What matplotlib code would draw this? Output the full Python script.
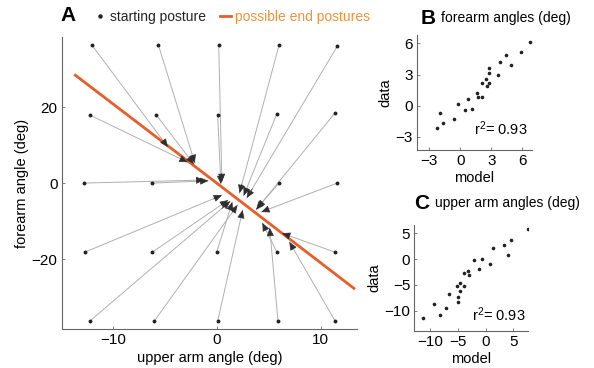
import matplotlib
matplotlib.use('Agg')
import matplotlib.pyplot as plt
from matplotlib.lines import Line2D

plt.rcParams['font.family'] = ['Liberation Sans', 'DejaVu Sans']
plt.rcParams['mathtext.fontset'] = 'custom'
plt.rcParams['mathtext.rm'] = 'Liberation Sans'
plt.rcParams['mathtext.it'] = 'Liberation Sans'

ORANGE = '#e85d2a'
LEGEND_ORANGE = '#f0923c'
GREY = '#b0b0b0'
SPINE = '#666666'

# panel A: starting postures (upper arm, forearm) and where each one ended up
start_x = [-12.0, -5.6, 0.2, 6.0, 11.6,
           -12.2, -5.8, 0.1, 5.8, 11.4,
           -12.8, -6.2, 6.0, 11.6,
           -12.7, -6.2, 0.0, 5.8, 11.4,
           -12.2, -6.0, 0.1, 5.9, 11.4]
start_y = [36.3, 36.3, 36.3, 36.3, 36.0,
           17.9, 17.9, 17.9, 18.3, 18.5,
           0.0, 0.0, 0.0, 0.0,
           -18.2, -18.2, -18.2, -18.2, -18.2,
           -36.3, -36.3, -36.3, -36.3, -36.3]
end_x = [-4.7, -2.1, 0.5, 2.2, 2.9,
         -2.8, -2.2, 0.4, 2.6, 3.8,
         -1.2, -0.8, 3.9, 4.3,
         0.5, 1.1, 1.5, 4.4, 6.3,
         1.3, 2.0, 2.5, 5.1, 7.0]
end_y = [9.5, 5.3, 0.3, -2.6, -3.9,
         5.5, 5.0, -0.2, -3.3, -7.0,
         0.8, 0.6, -6.6, -7.6,
         -3.2, -4.5, -5.0, -10.5, -13.2,
         -4.8, -5.8, -7.1, -11.8, -15.5]

# line of possible end postures
line_x = [-13.6, 0.0, 13.2]
line_y = [28.4, 0.0, -27.7]

# panel B: forearm angles, model vs data
fore_model = [-2.24, -1.98, -1.66, -0.58, -0.26, 0.42, 0.73, 1.12, 1.60, 1.73,
              2.08, 2.14, 2.49, 2.56, 2.75, 2.75, 2.81, 3.61, 3.83, 4.38,
              4.92, 5.88, 6.77]
fore_data = [-2.16, -0.73, -1.68, -1.33, 0.16, -0.38, 0.63, -0.32, 1.21, 0.79,
             0.86, 2.22, 2.60, 1.90, 2.22, 3.11, 3.62, 2.95, 4.19, 4.92,
             3.87, 5.17, 6.16]

# panel C: upper arm angles, model vs data
upper_model = [-11.3, -9.3, -8.1, -7.1, -6.6, -5.1, -5.0, -5.0, -4.6, -4.6,
               -3.8, -3.8, -3.1, -2.9, -2.0, -1.1, -0.7, 0.8, 1.4, 3.4,
               4.1, 4.6, 7.7]
upper_data = [-11.4, -8.7, -10.8, -9.4, -6.8, -5.2, -7.3, -8.3, -4.7, -6.1,
              -5.2, -2.6, -2.3, -3.1, -0.1, -1.9, 0.0, -1.0, 2.1, 2.8,
              0.8, 3.8, 5.9]


def style_axes(ax):
    for s in ['top', 'right']:
        ax.spines[s].set_visible(False)
    for s in ['left', 'bottom']:
        ax.spines[s].set_color(SPINE)
        ax.spines[s].set_linewidth(0.8)
    ax.tick_params(direction='in', length=2, width=0.6, color=SPINE,
                   labelsize=11, pad=3)


fig = plt.figure(figsize=(5.94, 3.68), dpi=100)

# ---- panel A
axA = fig.add_axes([0.104, 0.106, 0.497, 0.793])
style_axes(axA)
axA.plot(line_x, line_y, color=ORANGE, lw=2.0, zorder=2)
for sx, sy, ex, ey in zip(start_x, start_y, end_x, end_y):
    axA.plot([sx, ex], [sy, ey], color=GREY, lw=0.7, zorder=1)
    # short dark arrow at the end of each path
    bx = ex - 0.06 * (ex - sx)
    by = ey - 0.06 * (ey - sy)
    axA.annotate('', xy=(ex, ey), xytext=(bx, by),
                 arrowprops=dict(arrowstyle='-|>,head_length=0.5,head_width=0.22',
                                 color='#2e2e2e', lw=0.5, mutation_scale=10,
                                 shrinkA=0, shrinkB=0), zorder=3)
axA.plot(start_x, start_y, ls='', marker='o', ms=1.8, color='#222222', zorder=4)
axA.set_xlim(-14.9, 13.5)
axA.set_ylim(-38.4, 38.4)
axA.set_xticks([-10, 0, 10])
axA.set_yticks([-20, 0, 20])
axA.set_xlabel('upper arm angle (deg)', fontsize=10.5, labelpad=3)
axA.set_ylabel('forearm angle (deg)', fontsize=10.5, labelpad=2)

handles = [Line2D([], [], ls='', marker='o', ms=2.2, color='#222222'),
           Line2D([], [], color=ORANGE, lw=2)]
fig.legend(handles, ['starting posture', 'possible end postures'],
           loc='center left', bbox_to_anchor=(0.138, 0.955), ncol=2,
           frameon=False, fontsize=10, handlelength=0.8, handletextpad=0.3,
           columnspacing=1.0, labelcolor=['#222222', LEGEND_ORANGE])
fig.text(0.102, 0.958, 'A', fontsize=15, fontweight='bold', va='center', ha='left')

# ---- panel B
axB = fig.add_axes([0.7015, 0.592, 0.1936, 0.3125])
style_axes(axB)
axB.plot(fore_model, fore_data, ls='', marker='o', ms=1.6, color='#222222')
axB.set_xlim(-4.2, 6.9)
axB.set_ylim(-4.3, 6.8)
axB.set_xticks([-3, 0, 3, 6])
axB.set_yticks([-3, 0, 3, 6])
axB.set_xlabel('model', fontsize=10.5, labelpad=2)
axB.set_ylabel('data', fontsize=10.5, labelpad=2)
axB.text(1.3, -2.2, 'r$^2$= 0.93', fontsize=10.5, va='center')
fig.text(0.708, 0.950, 'B', fontsize=15, fontweight='bold', va='center')
fig.text(0.743, 0.950, 'forearm angles (deg)', fontsize=10, va='center')

# ---- panel C
axC = fig.add_axes([0.6975, 0.101, 0.192, 0.287])
style_axes(axC)
axC.plot(upper_model, upper_data, ls='', marker='o', ms=1.6, color='#222222')
axC.set_xlim(-12.8, 7.7)
axC.set_ylim(-13.9, 6.6)
axC.set_xticks([-10, -5, 0, 5])
axC.set_yticks([-10, -5, 0, 5])
axC.set_xlabel('model', fontsize=10.5, labelpad=2)
axC.set_ylabel('data', fontsize=10.5, labelpad=2)
axC.text(-2.5, -10.8, 'r$^2$= 0.93', fontsize=10.5, va='center')
fig.text(0.698, 0.448, 'C', fontsize=15, fontweight='bold', va='center')
fig.text(0.732, 0.448, 'upper arm angles (deg)', fontsize=10, va='center')

fig.savefig('out.png', dpi=100)
